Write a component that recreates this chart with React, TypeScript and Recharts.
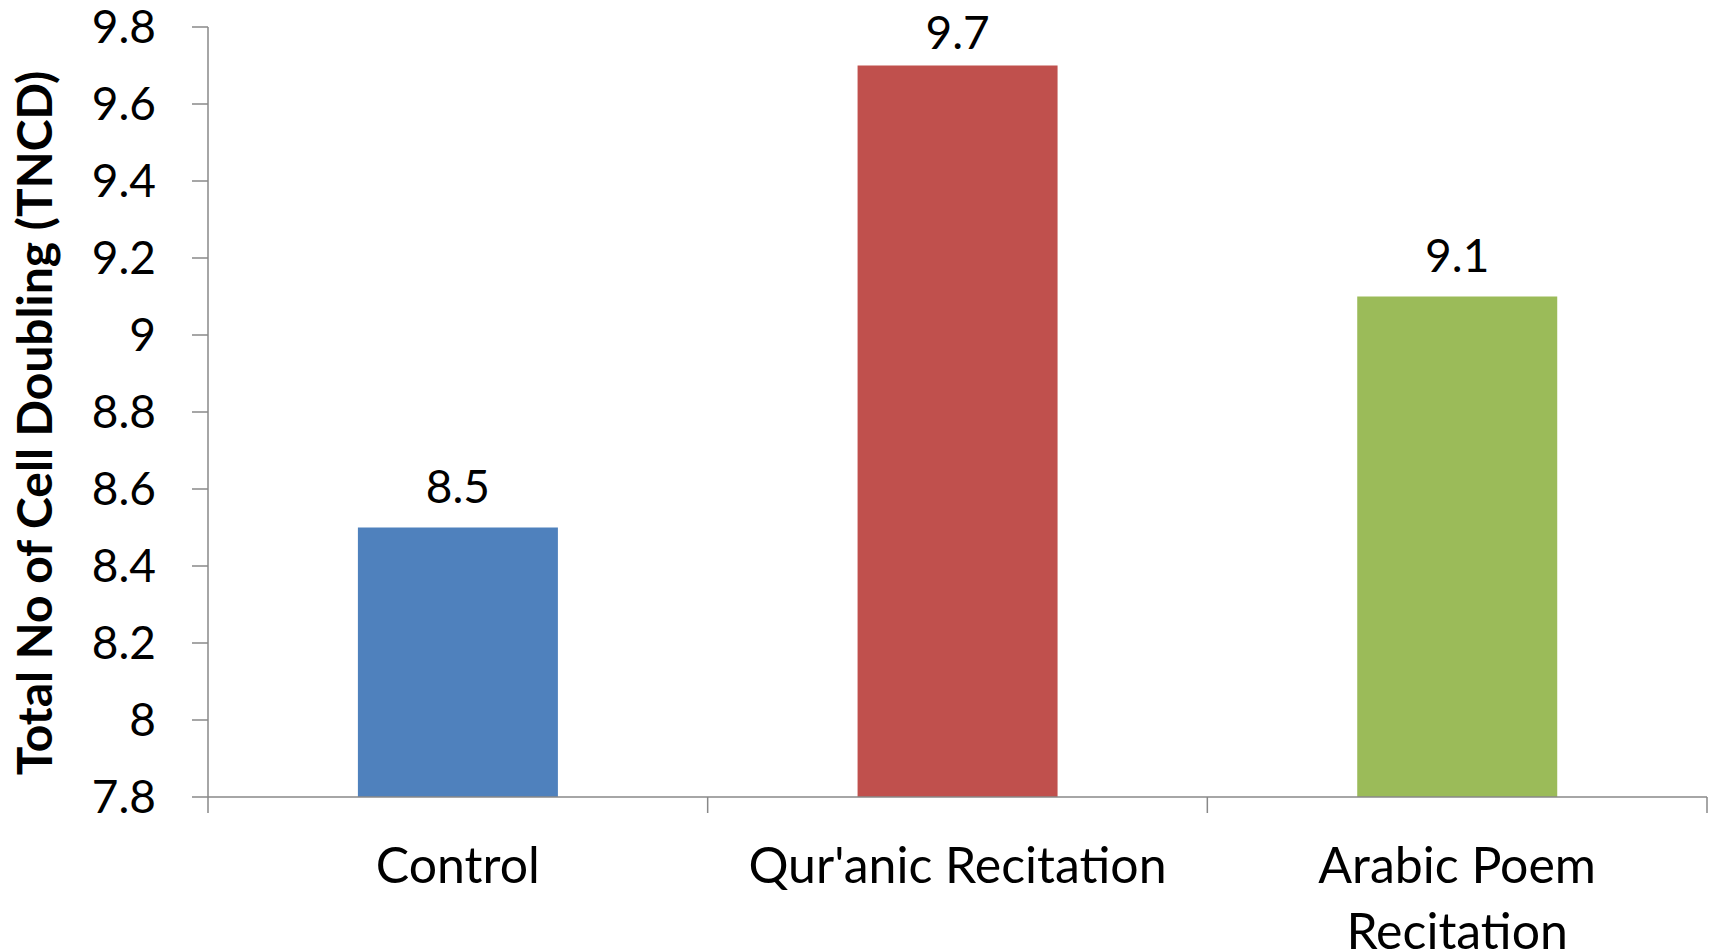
import React from "react";
import { BarChart, Bar, XAxis, YAxis, Cell, LabelList, Label } from "recharts";

const categories = ["Control", "Qur'anic Recitation", "Arabic Poem Recitation"];
const values = [8.5, 9.7, 9.1];
const colors = ["#4F81BD", "#C0504D", "#9BBB59"];
const categoryLabelLines = [["Control"], ["Qur'anic Recitation"], ["Arabic Poem", "Recitation"]];
const yTicks = [7.8, 8, 8.2, 8.4, 8.6, 8.8, 9, 9.2, 9.4, 9.6, 9.8];
const boundaryTicks = [0, 1, 2, 3];
const yTitle = "Total No of Cell Doubling (TNCD)";

const data = categories.map((c, i) => ({ name: c, value: values[i] }));

const FONT = "Lato, 'Open Sans', sans-serif";
const AXIS = "#888888";

const fmt = (v: number) => String(Number(v.toFixed(1)));

const CatTick = (props: any) => {
  const { x, y, index } = props;
  const lines = categoryLabelLines[index] || [String(props.payload?.value)];
  return (
    <text x={x} y={y} textAnchor="middle" fill="#000" fontSize={50} fontFamily={FONT}>
      {lines.map((l: string, i: number) => (
        <tspan key={i} x={x} dy={i === 0 ? "0.71em" : 66}>
          {l}
        </tspan>
      ))}
    </text>
  );
};

const EmptyTick = () => <g />;

const YTitle = (props: any) => {
  const vb = props.viewBox || {};
  const cx = (vb.x || 0) + 52;
  const cy = (vb.y || 0) + (vb.height || 0) / 2 + 11;
  return (
    <text
      x={cx}
      y={cy}
      transform={`rotate(-90 ${cx} ${cy})`}
      textAnchor="middle"
      fontSize={48}
      fontWeight="bold"
      fontFamily={FONT}
      fill="#000"
    >
      {yTitle}
    </text>
  );
};

const ValueLabel = (props: any) => {
  const { x, y, width, value } = props;
  const cx = Number(x) + Number(width) / 2;
  const baseline = Math.max(Number(y) - 25, 49);
  return (
    <text x={cx} y={baseline} textAnchor="middle" fill="#000" fontSize={46} fontFamily={FONT}>
      {fmt(Number(value))}
    </text>
  );
};

export default function App() {
  return (
    <div style={{ position: "absolute", left: 0, top: 0, width: 1714, height: 952, background: "#fff" }}>
      <BarChart
        width={1714}
        height={952}
        data={data}
        margin={{ top: 27, right: 7, left: 0, bottom: 0 }}
        barCategoryGap="30%"
      >
        <XAxis
          xAxisId="b_cat"
          dataKey="name"
          height={154}
          axisLine={false}
          tickLine={false}
          tickSize={0}
          tickMargin={49}
          tick={<CatTick />}
          interval={0}
        />
        <XAxis
          xAxisId="a_bound"
          type="number"
          dataKey="bound"
          domain={[0, 3]}
          ticks={boundaryTicks}
          height={1}
          tickSize={16}
          tick={<EmptyTick />}
          interval={0}
          stroke={AXIS}
          axisLine={{ stroke: AXIS, strokeWidth: 1.5 }}
          tickLine={{ stroke: AXIS, strokeWidth: 1.5 }}
          allowDataOverflow
        />
        <YAxis
          domain={[7.8, 9.8]}
          ticks={yTicks}
          width={208}
          tickSize={16}
          tickMargin={36}
          tickFormatter={fmt}
          tick={{ fill: "#000", fontSize: 46, fontFamily: FONT }}
          axisLine={{ stroke: AXIS, strokeWidth: 1.5 }}
          tickLine={{ stroke: AXIS, strokeWidth: 1.5 }}
          interval={0}
        >
          <Label content={<YTitle />} />
        </YAxis>
        <Bar dataKey="value" xAxisId="b_cat" isAnimationActive={false}>
          {data.map((d, i) => (
            <Cell key={d.name} fill={colors[i]} />
          ))}
          <LabelList dataKey="value" content={<ValueLabel />} />
        </Bar>
      </BarChart>
    </div>
  );
}
